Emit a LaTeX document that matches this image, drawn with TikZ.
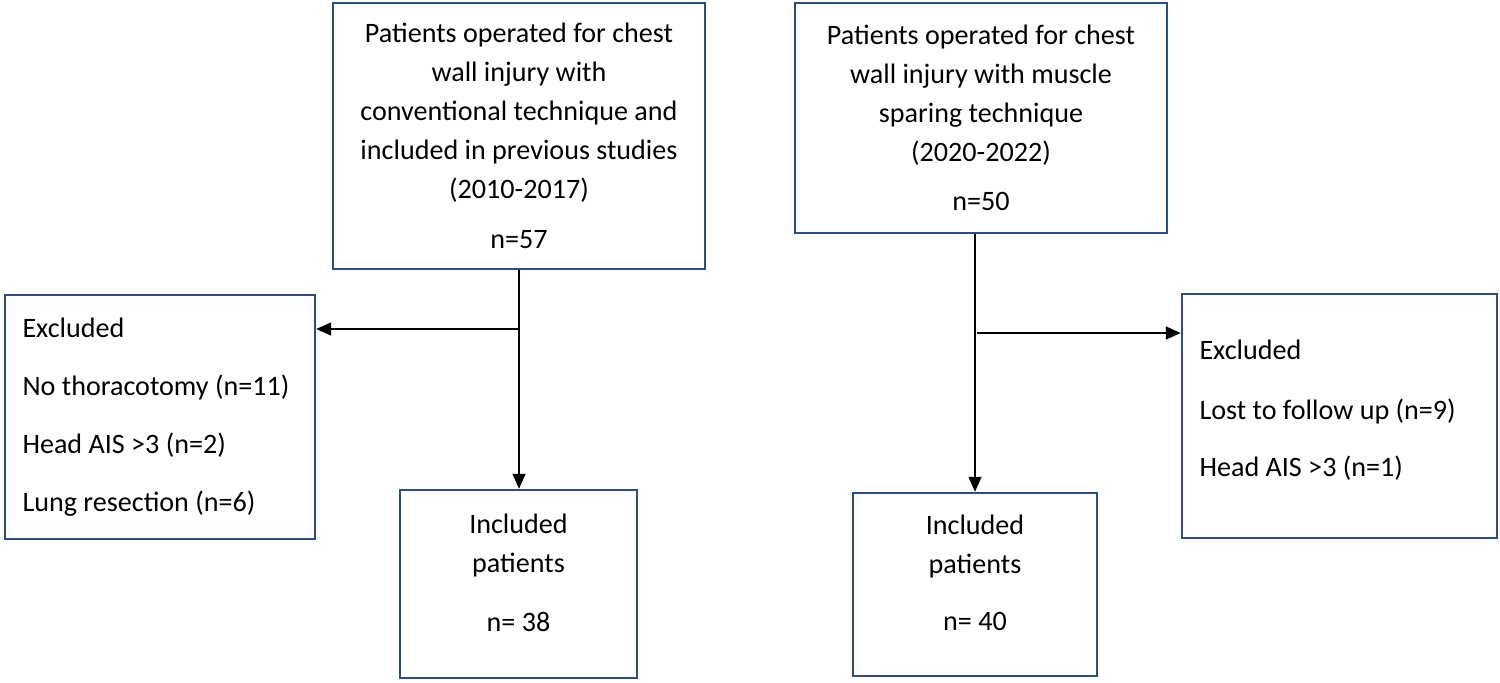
\documentclass[tikz,border=0pt]{standalone}
\usepackage{fontspec}
\setmainfont{Carlito}
\usetikzlibrary{arrows.meta}
\usetikzlibrary{positioning}
\definecolor{boxblue}{RGB}{45,76,132}

\begin{document}
\begin{tikzpicture}[
    box/.style={draw=boxblue, line width=1.4pt, inner sep=0pt,
      font=\fontsize{16}{22.2}\selectfont, align=center},
    exclbox/.style={box, align=flush left, inner xsep=0.35cm, text width=#1},
    arr/.style={-{Triangle[length=0.3cm,width=0.26cm]}, line width=0.75pt}
  ]
  \useasboundingbox (0,0) rectangle (30,-13.64);

  %% the two study groups
  \node[box, minimum width=7.44cm, minimum height=5.32cm] (convent) at (10.38,-2.72)
    {Patients operated for chest\\ wall injury with\\ conventional technique and\\
     included in previous studies\\ (2010-2017)\\[0.22cm] n=57};
  \node[box, minimum width=7.44cm, minimum height=4.6cm] (sparing) at (19.62,-2.36)
    {Patients operated for chest\\ wall injury with muscle\\ sparing technique\\
     (2020-2022)\\[0.2cm] n=50};

  %% excluded patients
  \node[exclbox=5.5cm, minimum height=4.88cm] (exclL) at (3.2,-8.34)
    {Excluded\\[0.38cm] No thoracotomy (n=11)\\[0.38cm] Head AIS >3 (n=2)\\[0.38cm]
     Lung resection (n=6)};
  \node[exclbox=5.6cm, minimum height=4.88cm] (exclR) at (26.79,-8.32)
    {Excluded\\[0.42cm] Lost to follow up (n=9)\\[0.36cm] Head AIS >3 (n=1)\\[-0.46cm]\mbox{}};

  %% included patients
  \node[box, minimum width=4.74cm, minimum height=3.76cm] (inclL) at (10.37,-11.68)
    {Included\\ patients\\[0.4cm] n= 38\\[-0.34cm]\mbox{}};
  \node[box, minimum width=4.88cm, minimum height=3.66cm] (inclR) at (19.5,-11.69)
    {Included\\ patients\\[0.36cm] n= 40\\[-0.3cm]\mbox{}};

  %% flow
  \coordinate (splitL) at (10.38,-6.58);
  \coordinate (splitR) at (19.54,-6.66);
  \draw[arr] (convent.south) -- (convent.south |- inclL.north);
  \draw[arr] (splitL) -- (splitL -| exclL.east);
  \draw[arr] (inclR.north |- sparing.south) -- (inclR.north);
  \draw[arr] (splitR) -- (splitR -| exclR.west);
\end{tikzpicture}
\end{document}
